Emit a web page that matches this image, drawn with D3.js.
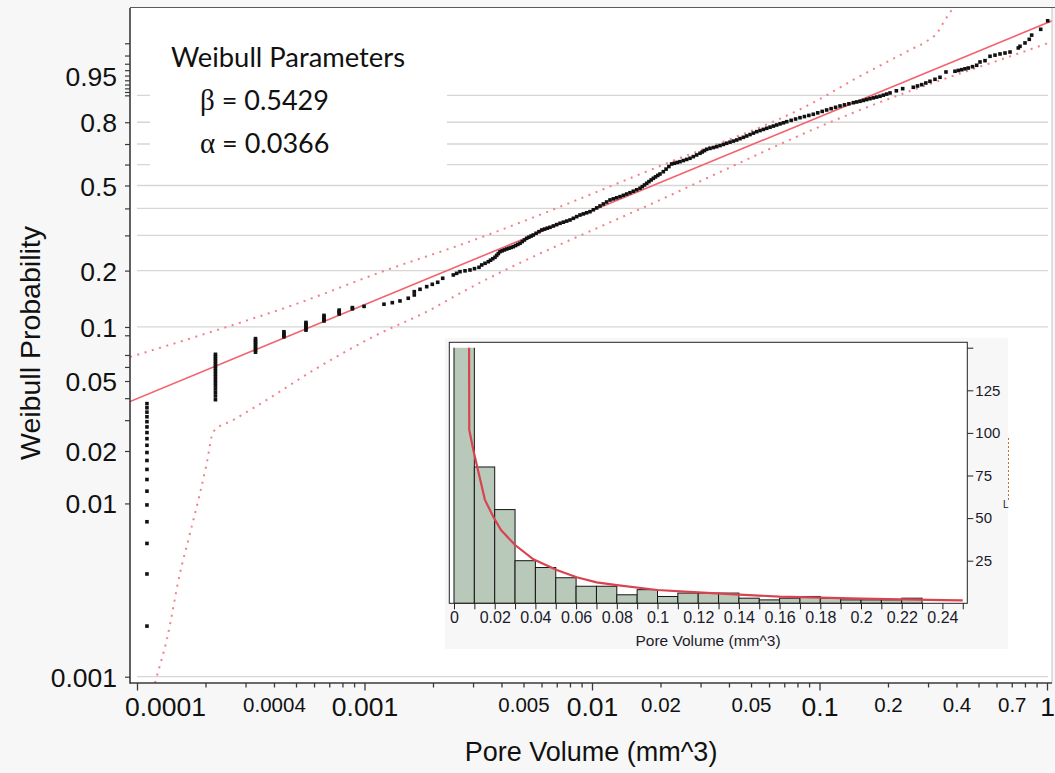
<!DOCTYPE html>
<html><head><meta charset="utf-8">
<script src="https://cdn.jsdelivr.net/npm/d3@7"></script>
<style>body{margin:0;background:#f7f7f7;} svg{display:block}</style>
</head><body><svg id="c" width="1055" height="773"></svg>
<script>
// ---------------- DATA ----------------
const sampleSize = 509;
const weibullBeta = 0.5429, weibullAlpha = 0.0366;
// tied pore volumes (volume, first rank, last rank)
const tiedColumns = [[0.0001106,1,19],[0.0002212,20,36],[0.0003318,37,44],[0.0004424,45,48],[0.000553,49,54],[0.0006636,55,59],[0.0007742,60,63],[0.0008848,64,65],[0.0009954,66,66]];
// probability plot points [pore volume, probability]
const probPoints = [[0.001218,0.1329],[0.001325,0.1355],[0.001432,0.1384],[0.001557,0.1431],[0.001655,0.1490],[0.001655,0.1551],[0.001754,0.1597],[0.001877,0.1649],[0.001986,0.1697],[0.002098,0.1739],[0.002207,0.1825],[0.002457,0.1899],[0.002542,0.1936],[0.002629,0.1975],[0.002766,0.1995],[0.002909,0.2015],[0.003044,0.2047],[0.003186,0.2080],[0.003275,0.2138],[0.003387,0.218],[0.003502,0.2222],[0.003581,0.2261],[0.003663,0.2300],[0.003746,0.2339],[0.00381,0.2390],[0.003874,0.2442],[0.00394,0.2495],[0.00403,0.2522],[0.004122,0.2548],[0.004217,0.2574],[0.004312,0.2597],[0.004409,0.2619],[0.004508,0.2642],[0.004612,0.2677],[0.004718,0.2711],[0.004826,0.2746],[0.004936,0.2799],[0.005049,0.2851],[0.005164,0.2905],[0.00528,0.2941],[0.005399,0.2977],[0.005521,0.3013],[0.00568,0.3070],[0.005843,0.3126],[0.006012,0.3184],[0.006183,0.3215],[0.006358,0.3247],[0.006538,0.3279],[0.006762,0.3326],[0.006994,0.3375],[0.007234,0.3423],[0.007483,0.3464],[0.00774,0.3505],[0.008005,0.3546],[0.00828,0.3609],[0.008565,0.3673],[0.008858,0.3738],[0.009162,0.3781],[0.009476,0.3824],[0.0098,0.3868],[0.010135,0.3944],[0.010483,0.4022],[0.01084,0.41],[0.011214,0.4183],[0.0116,0.4268],[0.012,0.4353],[0.012413,0.4401],[0.01284,0.4449],[0.01328,0.4497],[0.013734,0.4555],[0.014206,0.4614],[0.01469,0.4673],[0.015195,0.4739],[0.01572,0.4805],[0.01626,0.4872],[0.016632,0.4948],[0.017013,0.5025],[0.0174,0.5102],[0.017793,0.5180],[0.018197,0.5259],[0.01861,0.5337],[0.019031,0.5405],[0.019461,0.5474],[0.0199,0.5542],[0.02058,0.5653],[0.021166,0.5777],[0.02177,0.5902],[0.02239,0.6027],[0.023033,0.6064],[0.023693,0.6102],[0.02437,0.6139],[0.025206,0.6195],[0.026071,0.6250],[0.02696,0.6306],[0.027885,0.6387],[0.028845,0.6469],[0.02983,0.6551],[0.030513,0.6616],[0.031214,0.6681],[0.03193,0.6746],[0.033022,0.6788],[0.034155,0.6830],[0.03532,0.6872],[0.036531,0.6927],[0.037789,0.6981],[0.03908,0.7036],[0.040424,0.7089],[0.041816,0.7141],[0.04325,0.7193],[0.044738,0.7257],[0.046278,0.7319],[0.04786,0.7382],[0.049506,0.7449],[0.051215,0.7515],[0.05297,0.7581],[0.054787,0.7632],[0.056673,0.7684],[0.05861,0.7735],[0.060626,0.7784],[0.062713,0.7832],[0.06486,0.7881],[0.067087,0.7929],[0.069394,0.7976],[0.07177,0.8023],[0.075057,0.808],[0.078495,0.8136],[0.08208,0.8191],[0.085848,0.8237],[0.089787,0.8283],[0.09391,0.8329],[0.09824,0.8386],[0.10277,0.8441],[0.1075,0.8496],[0.11247,0.8546],[0.11766,0.8596],[0.1231,0.8644],[0.12874,0.8684],[0.13465,0.8722],[0.1408,0.876],[0.14567,0.8785],[0.1507,0.8808],[0.15585,0.8837],[0.1612,0.8866],[0.1667,0.8894],[0.17243,0.892],[0.17839,0.8946],[0.1845,0.8971],[0.19085,0.9005],[0.19744,0.9038],[0.2042,0.9071],[0.2177,0.9133],[0.2321,0.9192],[0.2584,0.9229],[0.2696,0.9263],[0.2813,0.9296],[0.2933,0.9337],[0.3059,0.9377],[0.3218,0.9422],[0.3386,0.9465],[0.3597,0.9568],[0.394,0.9581],[0.4076,0.9595],[0.4217,0.9608],[0.436,0.9623],[0.4508,0.9636],[0.4704,0.9657],[0.4909,0.9678],[0.5076,0.9724],[0.534,0.9741],[0.5617,0.9792],[0.5908,0.9804],[0.6215,0.9816],[0.6538,0.9825],[0.6877,0.9834],[0.7478,0.9868],[0.7608,0.988],[0.8004,0.9902],[0.8359,0.9922],[0.8564,0.9941],[0.9383,0.9961],[1.007,0.998]];
// fitted line end points
const fitLine = [[0.00009316,0.0383],[1.052,0.998]];
// confidence bounds
const upperBand = [[9.316e-5,0.0682],[2.203e-4,0.0954],[4.864e-4,0.1317],[1.252e-3,0.2015],[2.629e-3,0.2694],[0.0199,0.5929],[0.1005,0.8885],[0.1404,0.9407],[0.198,0.9724],[0.2499,0.9852],[0.2968,0.9913],[0.3285,0.9949],[0.3561,0.99813],[0.3862,0.99937],[0.4063,0.99972]];
const lowerBand = [[1.2e-4,0.00092],[1.221e-4,0.001],[1.351e-4,0.00163],[1.545e-4,0.003957],[1.71e-4,0.006732],[1.892e-4,0.01144],[2.025e-4,0.01701],[2.165e-4,0.02579],[2.65e-4,0.03007],[3.591e-4,0.03806],[6.166e-4,0.05897],[1.131e-3,0.09035],[1.941e-3,0.12375],[2.629e-3,0.1521],[0.0199,0.4353],[0.1362,0.8341],[1.005,0.98999],[1.052,0.99094]];
// axis ticks
const xMajorLabels = [0.0001,0.001,0.01,0.1,1];
const xMinorLabels = [0.0004,0.005,0.02,0.05,0.2,0.4,0.7];
const yLabels = [0.001,0.01,0.02,0.05,0.1,0.2,0.5,0.8,0.95];
const yTicks = [0.001,0.01,0.02,0.03,0.04,0.05,0.06,0.07,0.09,0.1,0.2,0.3,0.4,0.5,0.6,0.7,0.8,0.9,0.91,0.92,0.93,0.94,0.95,0.96,0.97,0.98,0.99];
const yGrid = [0.001,0.1,0.2,0.3,0.4,0.5,0.6,0.7,0.8,0.9];
// inset histogram
const binWidth = 0.01;
const binCounts = [196,80,55,25,21,15,10,10,5,8,4,6,6,6,3,2,3,4,3,2,2,2,3,0,0];
const densityCurve = [[0.0074,152],[0.0075,101.7],[0.0095,90],[0.0114,80.2],[0.0152,60.7],[0.0193,50.8],[0.0231,43.0],[0.030,34.2],[0.039,25.8],[0.0505,19.5],[0.0603,15.3],[0.0701,12.3],[0.080,10.7],[0.100,7.8],[0.12,6.4],[0.14,5.1],[0.16,3.9],[0.18,3.3],[0.20,2.7],[0.22,2.3],[0.24,1.9],[0.25,1.75]];
const insetXLabels = [0,0.02,0.04,0.06,0.08,0.1,0.12,0.14,0.16,0.18,0.2,0.22,0.24];
const insetYTicks = [25,50,75,100,125,150];

// ---------------- CHART ----------------
const svg = d3.select('#c');
const SANS = 'Liberation Sans, Arial, sans-serif';
const P = {l:130, r:1052, t:8, b:683};
const weib = p => Math.log(-Math.log(1 - p));
const x = d3.scaleLog().domain([1e-4, 1]).range([137, 1047]);
const yW = d3.scaleLinear().domain([weib(0.001), weib(0.9)]).range([676.7, 676.7 - 75.1*(weib(0.9)-weib(0.001))]);
const y = p => yW(weib(p));
y.copy = () => y; y.range = () => yW.range(); y.domain = () => [0.001, 0.9];

svg.append('rect').attr('width',1055).attr('height',773).attr('fill','#f7f7f7');
svg.append('rect').attr('x',P.l).attr('y',P.t).attr('width',P.r-P.l).attr('height',P.b-P.t).attr('fill','#fff');
svg.append('defs').append('clipPath').attr('id','plotclip').append('rect')
  .attr('x',P.l).attr('y',P.t).attr('width',P.r-P.l).attr('height',P.b-P.t);

// gridlines
svg.append('g').selectAll('line').data(yGrid).join('line')
  .attr('x1',137).attr('x2',1048).attr('y1',d=>y(d)).attr('y2',d=>y(d))
  .attr('stroke','#d6d6d6').attr('stroke-width',1.3);

// legend box
svg.append('rect').attr('x',150).attr('y',9).attr('width',297).attr('height',175).attr('fill','#fff');
const lg = svg.append('g').attr('fill','#111');
lg.append('text').attr('x',171).attr('y',66.7).attr('font-family','Lato, sans-serif').attr('font-size',27)
  .attr('textLength',234).attr('lengthAdjust','spacingAndGlyphs').text('Weibull Parameters');
[[110,'β',weibullBeta.toFixed(4)],[153.3,'α',weibullAlpha.toFixed(4)]].forEach(([yy,g,v])=>{
  const t = lg.append('text').attr('x',200).attr('y',yy).attr('font-size',27);
  t.append('tspan').attr('font-family','Liberation Serif, serif').attr('font-size',29).text(g);
  t.append('tspan').attr('font-family','Lato, sans-serif').text(' = ' + v);
});

// confidence bands, fit, points
const plot = svg.append('g').attr('clip-path','url(#plotclip)');
const line = d3.line().x(d=>x(d[0])).y(d=>y(d[1]));
const bandLine = d3.line().x(d=>x(d[0])).y(d=>y(d[1])).curve(d3.curveMonotoneX);
[upperBand, lowerBand].forEach(b=>{
  plot.append('path').attr('d',bandLine(b)).attr('fill','none').attr('stroke','#f47f89')
    .attr('stroke-width',2).attr('stroke-dasharray','2 5.6');
});
plot.append('path').attr('d',line(fitLine)).attr('fill','none').attr('stroke','#f2636e').attr('stroke-width',1.6);

const allPts = [];
tiedColumns.forEach(([v,a,b])=>{ for(let r=a;r<=b;r++) allPts.push([v, r/(sampleSize+1)]); });
probPoints.forEach(d=>allPts.push(d));
plot.append('g').selectAll('rect').data(allPts).join('rect')
  .attr('x',d=>x(d[0])-1.8).attr('y',d=>y(d[1])-1.8).attr('width',3.6).attr('height',3.6).attr('fill','#111');

// axes frame
svg.append('line').attr('x1',P.l).attr('x2',1055).attr('y1',7.5).attr('y2',7.5).attr('stroke','#5a5a5a').attr('stroke-width',1.2);
svg.append('line').attr('x1',P.r).attr('x2',P.r).attr('y1',P.t).attr('y2',P.b).attr('stroke','#c4c4c4');
svg.append('line').attr('x1',P.l).attr('x2',P.l).attr('y1',P.t).attr('y2',P.b+0.8).attr('stroke','#3a3a3a').attr('stroke-width',1.6);
svg.append('line').attr('x1',P.l).attr('x2',P.r).attr('y1',P.b).attr('y2',P.b).attr('stroke','#3a3a3a').attr('stroke-width',1.6);

// x axis
const xTickVals = [];
[-4,-3,-2,-1].forEach(e=>{ for(let m=1;m<=9;m++) xTickVals.push(+(m*Math.pow(10,e)).toPrecision(3)); });
xTickVals.push(1);
const isMajorX = d => xMajorLabels.includes(d);
const xa = svg.append('g').attr('transform',`translate(0,${P.b})`)
  .call(d3.axisBottom(x).tickValues(xTickVals).tickSizeOuter(0)
    .tickFormat(d => (isMajorX(d)||xMinorLabels.includes(d)) ? String(d) : ''));
xa.select('.domain').remove();
xa.selectAll('.tick line').attr('stroke','#3a3a3a').attr('stroke-width',1.3).attr('y2',d=>isMajorX(d)?7.5:4.5);
xa.selectAll('.tick text').attr('fill','#111').attr('font-family',SANS).attr('dy',null)
  .attr('font-size',d=>isMajorX(d)?26.5:20.5).attr('y',d=>isMajorX(d)?33.3:28.7)
  .attr('dx',d=>d===0.0001?28:0);
xa.attr('font-family',SANS);

// y axis
const ya = svg.append('g').attr('transform',`translate(${P.l},0)`)
  .call(d3.axisLeft(y).tickValues(yTicks).tickSizeOuter(0).tickSize(5)
    .tickFormat(d => yLabels.includes(d) ? String(d) : ''));
ya.select('.domain').remove();
ya.selectAll('.tick line').attr('stroke','#3a3a3a').attr('stroke-width',1.2);
ya.selectAll('.tick text').attr('fill','#111').attr('font-family',SANS).attr('font-size',26.5).attr('x',-13).attr('dy','0.36em');

// axis titles
svg.append('text').attr('x',591).attr('y',761).attr('text-anchor','middle').attr('font-family',SANS)
  .attr('font-size',27).attr('fill','#111').text('Pore Volume (mm^3)');
svg.append('text').attr('transform','translate(40,343) rotate(-90)').attr('text-anchor','middle').attr('font-family',SANS)
  .attr('font-size',28.5).attr('fill','#111').text('Weibull Probability');

// ---------------- INSET ----------------
const ins = svg.append('g');
ins.append('rect').attr('x',445).attr('y',338).attr('width',563).attr('height',311).attr('fill','#f7f7f7');
ins.append('rect').attr('x',449.3).attr('y',342.3).attr('width',518).attr('height',261).attr('fill','#fff');
const xi = d3.scaleLinear().domain([0,0.25]).range([454,962.75]);
const yi = d3.scaleLinear().domain([0,150]).range([603.3,347.7]);
ins.append('clipPath').attr('id','insclip').append('rect').attr('x',449.3).attr('y',347.7).attr('width',518).attr('height',256);
const bins = binCounts.map((n,i)=>({x0:i*binWidth, x1:(i+1)*binWidth, n}));
const ib = ins.append('g').attr('clip-path','url(#insclip)');
ib.selectAll('rect').data(bins).join('rect')
  .attr('x',d=>xi(d.x0)).attr('width',d=>xi(d.x1)-xi(d.x0))
  .attr('y',d=>yi(d.n)).attr('height',d=>yi(0)-yi(d.n))
  .attr('fill','#b9c9b9').attr('stroke','#151515').attr('stroke-width',1);
ib.append('path').attr('d',d3.line().x(d=>xi(d[0])).y(d=>yi(d[1]))(densityCurve))
  .attr('fill','none').attr('stroke','#d9434f').attr('stroke-width',2.2);
ins.append('rect').attr('x',449.3).attr('y',342.3).attr('width',518).attr('height',261)
  .attr('fill','none').attr('stroke','#222').attr('stroke-width',1);
const ixa = ins.append('g').attr('transform','translate(0,603.3)')
  .call(d3.axisBottom(xi).tickValues(d3.range(26).map(i=>+(i*binWidth).toFixed(2))).tickSize(6).tickSizeOuter(0)
    .tickFormat(d => insetXLabels.includes(d) ? String(d) : ''));
ixa.select('.domain').remove();
ixa.selectAll('.tick line').attr('stroke','#222');
ixa.selectAll('.tick text').attr('fill','#1a1a2a').attr('font-family',SANS).attr('font-size',16).attr('dy',null).attr('y',20);
const iya = ins.append('g').attr('transform','translate(967.3,0)')
  .call(d3.axisRight(yi).tickValues(insetYTicks).tickSize(6).tickSizeOuter(0)
    .tickFormat(d => d===150 ? '' : String(d)));
iya.select('.domain').remove();
iya.selectAll('.tick line').attr('stroke','#222');
iya.selectAll('.tick text').attr('fill','#1a1a2a').attr('font-family',SANS).attr('font-size',15).attr('x',8);
ins.append('text').attr('x',708).attr('y',646).attr('text-anchor','middle').attr('font-family',SANS)
  .attr('font-size',15.5).attr('fill','#1a1a2a').text('Pore Volume (mm^3)');
ins.append('line').attr('x1',1008.5).attr('x2',1008.5).attr('y1',438).attr('y2',500)
  .attr('stroke','#c0702a').attr('stroke-dasharray','2 2');
ins.append('text').attr('x',1003).attr('y',508).attr('font-family',SANS).attr('font-size',10).attr('fill','#222').text('L');
</script></body></html>
